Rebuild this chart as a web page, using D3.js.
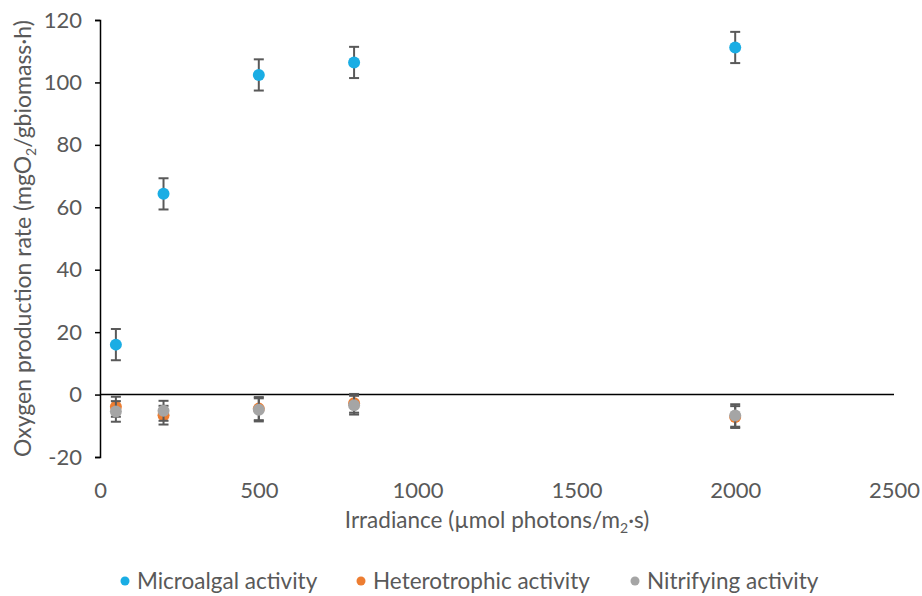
<!DOCTYPE html>
<html>
<head>
<meta charset="utf-8">
<script src="https://cdn.jsdelivr.net/npm/d3@7"></script>
<style>
  body { margin: 0; background: #fff; }
  text { font-family: Lato, "Open Sans", sans-serif; fill: #595959; }
</style>
</head>
<body>
<div id="chart"></div>
<script>
  // irradiance levels and the three measured activities (mean, error)
  var irradiance = [50, 200, 500, 800, 2000];
  var microalgal = [16, 64.3, 102.4, 106.4, 111.2];
  var microalgalErr = [5, 5, 5, 5, 5];
  var heterotrophic = [-3.9, -6.6, -4.5, -2.8, -7.2];
  var heterotrophicErr = [3.2, 3, 3.7, 3, 3.5];
  var nitrifying = [-5.4, -5.2, -4.9, -3.4, -6.7];
  var nitrifyingErr = [3.3, 3.2, 3.7, 3, 3.6];

  var xTicks = [0, 500, 1000, 1500, 2000, 2500];
  var yTicks = [-20, 0, 20, 40, 60, 80, 100, 120];

  var seriesNames = ["Microalgal activity", "Heterotrophic activity", "Nitrifying activity"];
  var seriesColors = ["#1AADE4", "#ED7D31", "#A5A5A5"];

  var svgWidth = 922;
  var svgHeight = 596;
  var tickSize = "22px";
  var labelSize = "22.5px";

  var margin = { top: 20, right: 28, bottom: 139, left: 100 };
  var width = svgWidth - margin.left - margin.right;
  var height = svgHeight - margin.top - margin.bottom;

  var svg = d3.select("#chart")
    .append("svg")
    .attr("width", svgWidth)
    .attr("height", svgHeight);

  var chartGroup = svg.append("g")
    .attr("transform", `translate(${margin.left}, ${margin.top})`);

  var xScale = d3.scaleLinear().domain([0, 2500]).range([0, width]);
  var yScale = d3.scaleLinear().domain([-20, 120]).range([height, 0]);

  // y axis on the left, ticks outside
  var yAxis = d3.axisLeft(yScale).tickValues(yTicks).tickSize(5).tickPadding(13)
    .tickFormat(d => String(d));
  var yG = chartGroup.append("g").call(yAxis);
  yG.attr("font-family", null).attr("font-size", null);
  yG.select(".domain").attr("stroke", "#000").attr("stroke-width", 1.5);
  yG.selectAll(".tick line").attr("stroke", "#000").attr("stroke-width", 1.5);
  yG.selectAll(".tick text").attr("font-size", tickSize).attr("fill", "#595959");

  // x labels sit at the bottom, axis line crosses at zero
  var xAxis = d3.axisBottom(xScale).tickValues(xTicks).tickSize(0).tickPadding(0)
    .tickFormat(d => String(d));
  var xG = chartGroup.append("g")
    .attr("transform", `translate(0, ${height + 33})`)
    .call(xAxis);
  xG.attr("font-family", null).attr("font-size", null);
  xG.select(".domain").remove();
  xG.selectAll(".tick text").attr("font-size", tickSize).attr("fill", "#595959")
    .attr("dy", "0.35em");

  chartGroup.append("line")
    .attr("x1", 0).attr("x2", width)
    .attr("y1", yScale(0)).attr("y2", yScale(0))
    .attr("stroke", "#000").attr("stroke-width", 1.5);

  var series = [
    { name: seriesNames[0], color: seriesColors[0], values: microalgal, errs: microalgalErr },
    { name: seriesNames[1], color: seriesColors[1], values: heterotrophic, errs: heterotrophicErr },
    { name: seriesNames[2], color: seriesColors[2], values: nitrifying, errs: nitrifyingErr }
  ];

  var capW = 5;
  series.forEach(function(s) {
    var pts = irradiance.map(function(x, i) {
      return { x: x, y: s.values[i], e: s.errs[i] };
    });

    var g = chartGroup.append("g");

    var eb = g.selectAll("g.err").data(pts).enter().append("g").attr("class", "err")
      .attr("stroke", "#595959").attr("stroke-width", 2);
    eb.append("line")
      .attr("x1", d => xScale(d.x)).attr("x2", d => xScale(d.x))
      .attr("y1", d => yScale(d.y + d.e)).attr("y2", d => yScale(d.y - d.e));
    eb.append("line")
      .attr("x1", d => xScale(d.x) - capW).attr("x2", d => xScale(d.x) + capW)
      .attr("y1", d => yScale(d.y + d.e)).attr("y2", d => yScale(d.y + d.e));
    eb.append("line")
      .attr("x1", d => xScale(d.x) - capW).attr("x2", d => xScale(d.x) + capW)
      .attr("y1", d => yScale(d.y - d.e)).attr("y2", d => yScale(d.y - d.e));

    g.selectAll("circle").data(pts).enter().append("circle")
      .attr("cx", d => xScale(d.x))
      .attr("cy", d => yScale(d.y))
      .attr("r", 6)
      .attr("fill", s.color);
  });

  // axis titles
  var yTitle = svg.append("text")
    .attr("transform", `translate(31, ${margin.top + yScale(50)}) rotate(-90)`)
    .attr("text-anchor", "middle")
    .attr("font-size", "23px");
  yTitle.append("tspan").text("Oxygen production rate (mgO");
  yTitle.append("tspan").attr("font-size", "14px").attr("dy", "5").text("2");
  yTitle.append("tspan").attr("dy", "-5").text("/gbiomass·h)");

  var xTitle = svg.append("text")
    .attr("x", margin.left + width / 2)
    .attr("y", 528)
    .attr("text-anchor", "middle")
    .attr("font-size", labelSize);
  xTitle.append("tspan").text("Irradiance (µmol photons/m");
  xTitle.append("tspan").attr("font-size", "14px").attr("dy", "5").text("2");
  xTitle.append("tspan").attr("dy", "-5").text("·s)");

  // legend
  var legendX = [125, 361, 635];
  var legend = svg.selectAll("g.legend").data(series).enter().append("g")
    .attr("class", "legend")
    .attr("transform", (d, i) => `translate(${legendX[i]}, 581)`);
  legend.append("circle").attr("r", 4.5).attr("fill", d => d.color);
  legend.append("text").attr("x", 12).attr("dy", "0.35em")
    .attr("font-size", labelSize).text(d => d.name);
</script>
</body>
</html>
